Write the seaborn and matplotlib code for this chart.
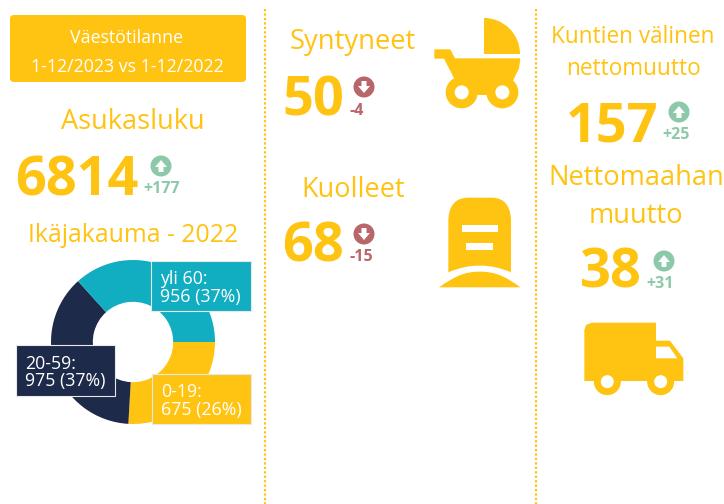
import matplotlib
matplotlib.use('Agg')
import matplotlib.pyplot as plt
import seaborn as sns
from matplotlib.patches import Circle, FancyBboxPatch, PathPatch, Polygon, Rectangle, Wedge
from matplotlib.path import Path

sns.set_theme(style='white')
plt.rcParams['font.family'] = ['Open Sans', 'DejaVu Sans']

# age distribution
age_groups = ['0-19', '20-59', 'yli 60']
age_values = [675, 975, 956]
age_pcts = [26, 37, 37]
age_colors = ['#FFC312', '#1E2A4A', '#10AEC0']

# KPI values
kpi_names = ['Asukasluku', 'Syntyneet', 'Kuolleet', 'Kuntien välinen\nnettomuutto', 'Nettomaahan\nmuutto']
kpi_values = [6814, 50, 68, 157, 38]
kpi_changes = [177, -4, -15, 25, 31]

YELLOW = '#FFC312'
GREEN = '#8CC9A8'
RED = '#B9666B'

fig = plt.figure(figsize=(7.24, 5.04), dpi=100, facecolor='white')

# donut
ax_pie = fig.add_axes([(133 - 82) / 724, (504 - 342 - 82) / 504, 164 / 724, 164 / 504], zorder=1)
ax_pie.pie(age_values, colors=age_colors, startangle=0, counterclock=False, radius=1,
           wedgeprops={'width': 0.51, 'edgecolor': 'none', 'linewidth': 0})
ax_pie.set_xlim(-1, 1)
ax_pie.set_ylim(-1, 1)

# everything else in pixel coordinates
ax = fig.add_axes([0, 0, 1, 1], zorder=2)
ax.set_xlim(0, 724)
ax.set_ylim(504, 0)
ax.patch.set_alpha(0)
ax.axis('off')
sns.despine(ax=ax, left=True, bottom=True)

for x in [265, 536]:
    ax.plot([x, x], [9, 504], color=YELLOW, lw=1.6, ls=(0, (1, 1)))

ax.add_patch(FancyBboxPatch((10, 15), 236, 67, boxstyle='round,pad=0,rounding_size=4', fc=YELLOW, ec='none'))
ax.text(127, 38, 'Väestötilanne', color='white', fontsize=12.8, ha='center', va='center')
ax.text(127, 67, '1-12/2023 vs 1-12/2022', color='white', fontsize=12.8, ha='center', va='center')

title_pos = [(133, 122), (353, 42.5), (353, 190), (633, 53), (636, 197)]
value_pos = [(77, 181), (313, 101), (313, 248), (612, 127), (611, 273)]
badge_pos = [(161, 166), (364, 87), (364, 234), (679, 112), (664, 261)]
delta_pos = [(162, 189), (357, 111), (361, 257), (676, 135), (660, 284)]
title_sizes = [19.5, 19.7, 19.5, 16.3, 19.6]
title_spacing = [1.2, 1.2, 1.2, 1.42, 1.47]


def badge(x, y, up, color):
    ax.add_patch(Circle((x, y), 10.5, fc=color, ec='none'))
    s = -1 if up else 1
    ax.add_patch(Polygon([(x - 6, y - s), (x, y + s * 6), (x + 6, y - s), (x + 2.5, y - s),
                          (x + 2.5, y - s * 6), (x - 2.5, y - s * 6), (x - 2.5, y - s)], fc='white', ec='none'))


for i in range(len(kpi_names)):
    ax.text(*title_pos[i], kpi_names[i], color=YELLOW, fontsize=title_sizes[i], ha='center', va='center',
            linespacing=title_spacing[i])
    ax.text(*value_pos[i], str(kpi_values[i]), color=YELLOW, fontsize=39, fontweight='bold', ha='center', va='center')
    up = kpi_changes[i] > 0
    col = GREEN if up else RED
    badge(*badge_pos[i], up, col)
    ax.text(*delta_pos[i], f'{kpi_changes[i]:+d}', color=col, fontsize=11.5, fontweight='bold', ha='center', va='center')

ax.text(133, 235, 'Ikäjakauma - 2022', color=YELLOW, fontsize=17.8, ha='center', va='center')

# donut labels
label_boxes = [(152, 374, 99, 50), (16, 345, 99, 51), (151, 261, 100, 50)]
for i, (bx, by, bw, bh) in enumerate(label_boxes):
    ax.add_patch(Rectangle((bx, by), bw, bh, fc=age_colors[i], ec='#E8E8E8', lw=0.8))
    ax.text(bx + 9, by + bh / 2 + 2, f'{age_groups[i]}:\n{age_values[i]} ({age_pcts[i]}%)', color='white',
            fontsize=12.8, ha='left', va='center', linespacing=0.95)


# icons, traced in zoomed pixels
def pram(z):
    ox = 265
    p = lambda a, b: (ox + a / 3, b / 3)
    ax.add_patch(Wedge(p(657, 162), 36, -90, 0, fc=YELLOW, ec='none', zorder=z))
    verts = [p(508, 148), p(556, 148), p(570, 175), p(766, 175), p(762, 205), p(745, 240), p(690, 285), p(610, 285),
             p(570, 240), p(537, 176), p(508, 176), p(508, 148)]
    ax.add_patch(Polygon(verts, fc=YELLOW, ec='none', zorder=z))
    for cx in [590, 712]:
        ax.add_patch(Circle(p(cx, 277), 16, fc=YELLOW, ec='none', zorder=z))
        ax.add_patch(Circle(p(cx, 277), 7, fc='white', ec='none', zorder=z + 1))


def stone(z):
    ox = 265
    p = lambda a, b: (ox + a / 3, b / 3)
    verts = [p(550, 817), p(550, 665), p(550, 625), p(565, 593), p(610, 593), p(680, 593), p(723, 593), p(738, 625),
             p(738, 665), p(738, 817), p(675, 790), p(613, 790), p(550, 817)]
    codes = [Path.MOVETO, Path.LINETO, Path.CURVE4, Path.CURVE4, Path.CURVE4, Path.LINETO, Path.CURVE4, Path.CURVE4,
             Path.CURVE4, Path.LINETO, Path.CURVE4, Path.CURVE4, Path.CURVE4]
    ax.add_patch(PathPatch(Path(verts, codes), fc=YELLOW, ec='none', zorder=z))
    ax.add_patch(Rectangle(p(590, 675), 36, 7, fc='white', ec='none', zorder=z + 1))
    ax.add_patch(Rectangle(p(604, 728), 27, 7, fc='white', ec='none', zorder=z + 1))
    verts = [p(522, 862), p(570, 828), p(600, 815), p(644, 815), p(690, 815), p(720, 828), p(766, 862), p(522, 862)]
    codes = [Path.MOVETO, Path.CURVE4, Path.CURVE4, Path.CURVE4, Path.CURVE4, Path.CURVE4, Path.CURVE4, Path.CLOSEPOLY]
    ax.add_patch(PathPatch(Path(verts, codes), fc=YELLOW, ec='none', zorder=z))


def truck(z):
    ox = 530
    p = lambda a, b: (ox + a / 3, b / 3)
    verts = [p(163, 990), p(168, 975), p(185, 968), p(378, 968), p(378, 1022), p(420, 1022), p(460, 1075), p(460, 1143),
             p(163, 1143)]
    ax.add_patch(Polygon(verts, fc=YELLOW, ec='none', zorder=z))
    ax.add_patch(Polygon([p(378, 1040), p(418, 1040), p(442, 1075), p(378, 1075)], fc='white', ec='none', zorder=z + 1))
    for cx in [232, 392]:
        ax.add_patch(Circle(p(cx, 1145), 13.5, fc=YELLOW, ec='none', zorder=z + 1))
        ax.add_patch(Circle(p(cx, 1145), 6.5, fc='white', ec='none', zorder=z + 2))


pram(3)
stone(3)
truck(3)

fig.savefig('out.png', dpi=100)
